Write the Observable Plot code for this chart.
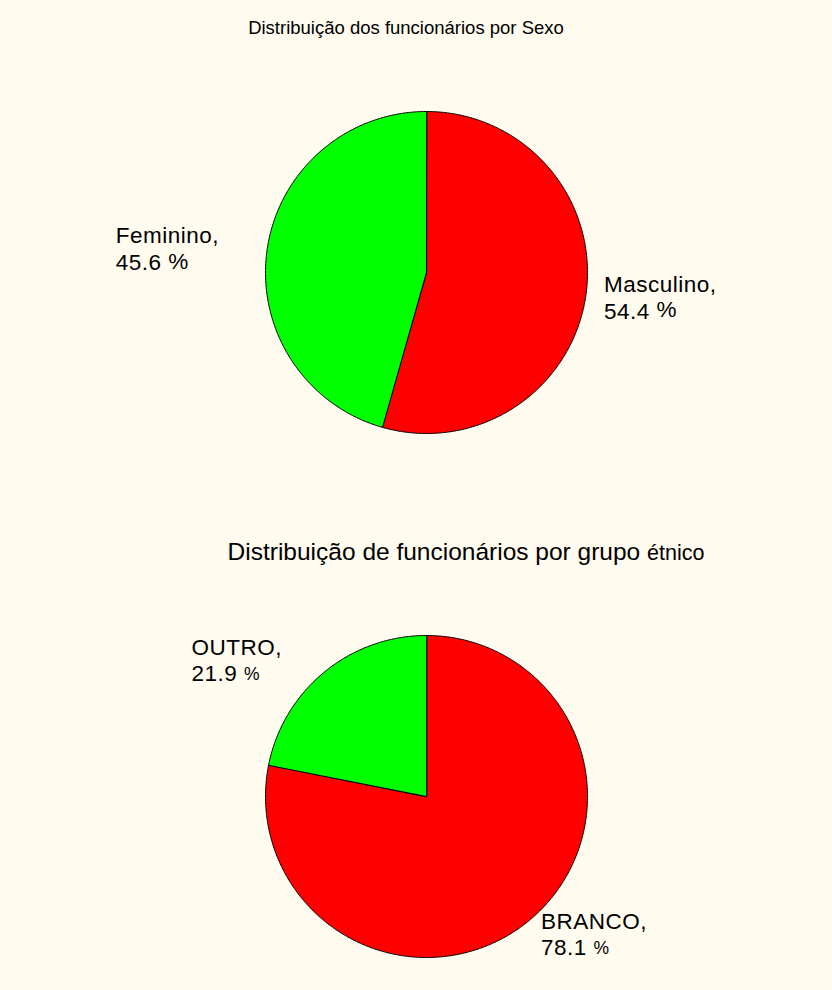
<!DOCTYPE html>
<html><head><meta charset="utf-8">
<script src="https://cdn.jsdelivr.net/npm/d3@7"></script>
<script src="https://cdn.jsdelivr.net/npm/@observablehq/plot@0.6"></script>
<style>
html,body{margin:0;padding:0;background:#fffbef;}
#wrap{position:relative;width:832px;height:990px;overflow:hidden;font-family:"Liberation Sans",Arial,sans-serif;background:#fffbef;}
.title{position:absolute;left:0;width:832px;text-align:center;color:#000;white-space:nowrap;line-height:1;}
.plot{position:absolute;left:0;}
.plot text{letter-spacing:0.5px;}
</style></head><body><div id="wrap"></div>
<script>
// ---- data ----
const sexoCategories = ["Masculino", "Feminino"];
const sexoValues = [54.4, 45.6];
const sexoColors = ["#ff0000", "#00ff00"];
const etniaCategories = ["BRANCO", "OUTRO"];
const etniaValues = [78.1, 21.9];
const etniaColors = ["#ff0000", "#00ff00"];
const title1 = "Distribuição dos funcionários por Sexo";
const title2a = "Distribuição de funcionários por grupo";
const title2b = "étnico";

const FONT = '"Liberation Sans", Arial, sans-serif';
const LABEL_SIZE = 22.5;
const LS = 0.5;       // letter spacing
const LH = 1.18;      // line height (em)
const wrap = document.getElementById("wrap");

function measure(text, size) {
  const c = measure.c || (measure.c = document.createElement("canvas").getContext("2d"));
  c.font = `${size}px ${FONT}`;
  return c.measureText(text).width + LS * text.length;
}

function pieChart(categories, values, colors, height, pctSize) {
  const total = d3.sum(values);
  let acc = 0;
  const slices = categories.map((c, i) => {
    const a0 = acc / total * 2 * Math.PI; acc += values[i];
    const a1 = acc / total * 2 * Math.PI;
    return {c, v: values[i], a0, a1};
  });
  const verts = [];
  for (const s of slices) {
    verts.push({c: s.c, x: 0, y: 0});
    const n = Math.max(2, Math.ceil((s.a1 - s.a0) / (Math.PI / 360)));
    for (let k = 0; k <= n; k++) {
      const a = s.a0 + (s.a1 - s.a0) * k / n;
      verts.push({c: s.c, x: Math.sin(a), y: Math.cos(a)});
    }
  }
  const labels = slices.map(s => {
    const m = (s.a0 + s.a1) / 2;
    const l1 = `${s.c},`, l2 = `${s.v.toFixed(1)}`;
    const w2 = measure(l2 + " ", LABEL_SIZE);
    const w = Math.max(measure(l1, LABEL_SIZE), w2 + measure("%", pctSize));
    return {c: s.c, x: 1.1 * Math.sin(m), y: 1.1 * Math.cos(m), text: `${l1}\n${l2}`,
            right: Math.sin(m) >= 0, w, w2};
  });
  const textOpts = {x: "x", y: "y", textAnchor: "start", fill: "#000", lineAnchor: "middle"};
  const marks = [
    Plot.line(verts, {x: "x", y: "y", z: "c", fill: "c", stroke: "#000", strokeWidth: 1, curve: "linear-closed"})
  ];
  const pctDy = (0.32 + 0.5 * LH) * LABEL_SIZE - 0.32 * pctSize;
  for (const d of labels) {
    const dx = d.right ? 2 : -(d.w + 32);
    marks.push(Plot.text([d], {...textOpts, text: "text", dx, fontSize: LABEL_SIZE, lineHeight: LH}));
    marks.push(Plot.text([d], {...textOpts, text: () => "%", dx: dx + d.w2, dy: pctDy, fontSize: pctSize}));
  }
  return Plot.plot({
    width: 832, height, margin: 0,
    x: {domain: [-1, 1], range: [265, 587], axis: null},
    y: {domain: [-1, 1], range: [433, 111], axis: null},
    color: {domain: categories, range: colors},
    style: {background: "transparent", fontFamily: FONT, overflow: "visible"},
    marks
  });
}

const p1 = pieChart(sexoCategories, sexoValues, sexoColors, 524, LABEL_SIZE);
p1.classList.add("plot"); p1.style.top = "0px";
wrap.appendChild(p1);
const p2 = pieChart(etniaCategories, etniaValues, etniaColors, 466, 17.5);
p2.classList.add("plot"); p2.style.top = "524px";
wrap.appendChild(p2);

const t1 = document.createElement("div");
t1.className = "title"; t1.textContent = title1;
t1.style.fontSize = "18.5px"; t1.style.top = "19px"; t1.style.left = "-10px";
wrap.appendChild(t1);
const t2 = document.createElement("div");
t2.className = "title";
t2.style.fontSize = "24.5px"; t2.style.top = "540px"; t2.style.left = "50px";
t2.innerHTML = `${title2a} <span style="font-size:21.5px">${title2b}</span>`;
wrap.appendChild(t2);
</script></body></html>
